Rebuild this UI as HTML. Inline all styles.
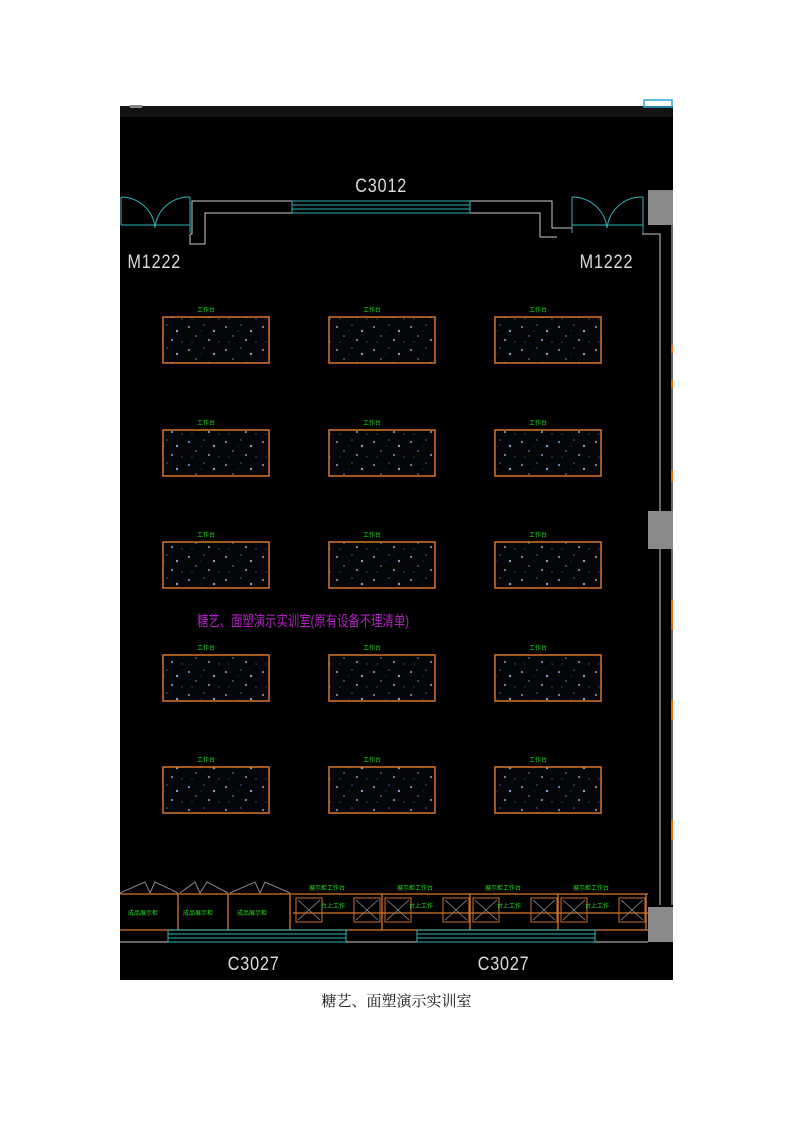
<!DOCTYPE html>
<html><head><meta charset="utf-8"><style>
html,body{margin:0;padding:0;background:#fff;width:793px;height:1122px;overflow:hidden}
svg{display:block}
</style></head><body>
<svg width="793" height="1122" viewBox="0 0 793 1122" xmlns="http://www.w3.org/2000/svg">
<defs>
<pattern id="dots" width="37" height="23" patternUnits="userSpaceOnUse">
<rect width="37" height="23" fill="#04060a"/>
<circle cx="4" cy="5" r="1.1" fill="#6d8fb8"/>
<circle cx="19" cy="3" r="0.8" fill="#4a6a90"/>
<circle cx="29" cy="9" r="1.2" fill="#7fa2cc"/>
<circle cx="11" cy="14" r="0.9" fill="#5a7aa0"/>
<circle cx="24" cy="18" r="1.1" fill="#6d8fb8"/>
<circle cx="34" cy="20" r="0.7" fill="#3e5b7e"/>
<circle cx="7" cy="20" r="0.6" fill="#3e5b7e"/>
<circle cx="16" cy="9" r="0.5" fill="#3e5b7e"/>
</pattern>
</defs>
<rect x="120" y="106" width="553" height="874" fill="#000"/>
<rect x="120" y="106" width="553" height="11" fill="#121214"/>
<rect x="130" y="105" width="12" height="3" fill="#888"/>
<rect x="644" y="100" width="28" height="7" fill="none" stroke="#2aa7d6" stroke-width="1.5"/>

<!-- top wall -->
<g stroke="#ccc" stroke-width="1" fill="none">
<polyline points="190,234 192,234 192,201 292,201"/>
<polyline points="470,201 552,201 552,228 572,228"/>
<polyline points="205,244 205,213 292,213"/>
<polyline points="470,213 540,213 540,237 557,237"/>
<polyline points="190,234 190,244 205,244"/>
<polyline points="642,234 660,234 660,905"/>
<line x1="672" y1="225" x2="672" y2="905"/>
</g>
<g stroke="#2fb3b8" stroke-width="1" fill="none">
<rect x="292" y="201" width="178" height="12"/>
<line x1="292" y1="205" x2="470" y2="205"/>
<line x1="292" y1="209" x2="470" y2="209"/>
<path d="M121,197 L121,225 M190,197 L190,233 M121,225 L190,225 M121,197 A34,34 0 0 1 155,228 M190,197 A34,34 0 0 0 155,228"/>
<path d="M572,197 L572,233 M643,197 L643,233 M572,225 L643,225 M572,197 A35,35 0 0 1 607,228 M643,197 A35,35 0 0 0 607,228"/>
</g>
<rect x="648" y="190" width="25" height="35" fill="#8a8a8a"/>
<rect x="648" y="511" width="25" height="38" fill="#8a8a8a"/>
<rect x="648" y="907" width="25" height="35" fill="#8a8a8a"/>
<g fill="#e66a10">
<rect x="671" y="345" width="2" height="8"/><rect x="671" y="380" width="2" height="8"/><rect x="671" y="470" width="2" height="12"/><rect x="671" y="600" width="2" height="30"/><rect x="671" y="700" width="2" height="20"/><rect x="671" y="820" width="2" height="20"/>
</g>

<g font-family="Liberation Sans, sans-serif" fill="#ddd" font-size="19" style="letter-spacing:1px" transform="scale(0.85,1)">
<text x="418" y="192">C3012</text>
<text x="150" y="268">M1222</text>
<text x="682" y="268">M1222</text>
<text x="268" y="970">C3027</text>
<text x="562" y="970">C3027</text>
</g>

<!-- tables -->
<g id="tables" stroke="#d8762a" stroke-width="1.5" fill="url(#dots)">
<rect x="163" y="317" width="106" height="46"/><rect x="329" y="317" width="106" height="46"/><rect x="495" y="317" width="106" height="46"/>
<rect x="163" y="430" width="106" height="46"/><rect x="329" y="430" width="106" height="46"/><rect x="495" y="430" width="106" height="46"/>
<rect x="163" y="542" width="106" height="46"/><rect x="329" y="542" width="106" height="46"/><rect x="495" y="542" width="106" height="46"/>
<rect x="163" y="655" width="106" height="46"/><rect x="329" y="655" width="106" height="46"/><rect x="495" y="655" width="106" height="46"/>
<rect x="163" y="767" width="106" height="46"/><rect x="329" y="767" width="106" height="46"/><rect x="495" y="767" width="106" height="46"/>
</g>
<g font-family="Liberation Sans, 'Noto Sans CJK SC', sans-serif" fill="#22dd22" font-size="6" text-anchor="middle">
<text x="206" y="312">工作台</text><text x="372" y="312">工作台</text><text x="538" y="312">工作台</text>
<text x="206" y="425">工作台</text><text x="372" y="425">工作台</text><text x="538" y="425">工作台</text>
<text x="206" y="537">工作台</text><text x="372" y="537">工作台</text><text x="538" y="537">工作台</text>
<text x="206" y="650">工作台</text><text x="372" y="650">工作台</text><text x="538" y="650">工作台</text>
<text x="206" y="762">工作台</text><text x="372" y="762">工作台</text><text x="538" y="762">工作台</text>
</g>
<text x="197" y="626" font-family="Liberation Sans, 'Noto Sans CJK SC', sans-serif" font-size="15" fill="#b020c0" textLength="212" lengthAdjust="spacingAndGlyphs">糖艺、面塑演示实训室(原有设备不理清单)</text>

<!-- bottom -->
<g stroke="#888" stroke-width="1" fill="none">
<polyline points="120,893 145,882 150,893 155,882 178,893"/>
<polyline points="180,893 195,882 200,893 207,882 228,893"/>
<polyline points="230,893 255,882 260,893 265,882 290,893"/>
</g>
<g stroke="#d8762a" stroke-width="1.3" fill="none">
<line x1="120" y1="894" x2="648" y2="894"/>
<line x1="120" y1="930" x2="648" y2="930"/>
<line x1="293" y1="913" x2="648" y2="913"/>
<line x1="178" y1="894" x2="178" y2="930"/><line x1="228" y1="894" x2="228" y2="930"/><line x1="290" y1="894" x2="290" y2="930"/>
<line x1="382" y1="894" x2="382" y2="930"/><line x1="470" y1="894" x2="470" y2="930"/><line x1="558" y1="894" x2="558" y2="930"/><line x1="646" y1="894" x2="646" y2="930"/>
</g>
<g stroke="#c87030" stroke-width="1" fill="none">
<rect x="296" y="898" width="26" height="24"/><rect x="354" y="898" width="26" height="24"/>
<rect x="385" y="898" width="26" height="24"/><rect x="443" y="898" width="26" height="24"/>
<rect x="473" y="898" width="26" height="24"/><rect x="531" y="898" width="26" height="24"/>
<rect x="561" y="898" width="26" height="24"/><rect x="619" y="898" width="26" height="24"/>
</g>
<g stroke="#999" stroke-width="0.7" fill="none">
<path d="M298,900 L320,920 M320,900 L298,920 M356,900 L378,920 M378,900 L356,920 M387,900 L409,920 M409,900 L387,920 M445,900 L467,920 M467,900 L445,920 M475,900 L497,920 M497,900 L475,920 M533,900 L555,920 M555,900 L533,920 M563,900 L585,920 M585,900 L563,920 M621,900 L643,920 M643,900 L621,920"/>
</g>
<line x1="120" y1="942" x2="648" y2="942" stroke="#ccc" stroke-width="1"/>
<g stroke="#2fb3b8" stroke-width="1" fill="none">
<rect x="168" y="930" width="178" height="12"/><line x1="168" y1="934" x2="346" y2="934"/><line x1="168" y1="938" x2="346" y2="938"/>
<rect x="417" y="930" width="178" height="12"/><line x1="417" y1="934" x2="595" y2="934"/><line x1="417" y1="938" x2="595" y2="938"/>
</g>
<g font-family="Liberation Sans, 'Noto Sans CJK SC', sans-serif" fill="#22dd22" font-size="6" text-anchor="middle">
<text x="143" y="915">成品展示柜</text><text x="198" y="915">成品展示柜</text><text x="252" y="915">成品展示柜</text>
<text x="327" y="890">展示柜工作台</text><text x="415" y="890">展示柜工作台</text><text x="503" y="890">展示柜工作台</text><text x="591" y="890">展示柜工作台</text>
<text x="333" y="908">台上工作</text><text x="421" y="908">台上工作</text><text x="509" y="908">台上工作</text><text x="597" y="908">台上工作</text>
</g>

<text x="396.5" y="1006" text-anchor="middle" font-family="Liberation Serif, 'Noto Serif CJK SC', serif" font-size="15" fill="#111">糖艺、面塑演示实训室</text>
</svg>
</body></html>
